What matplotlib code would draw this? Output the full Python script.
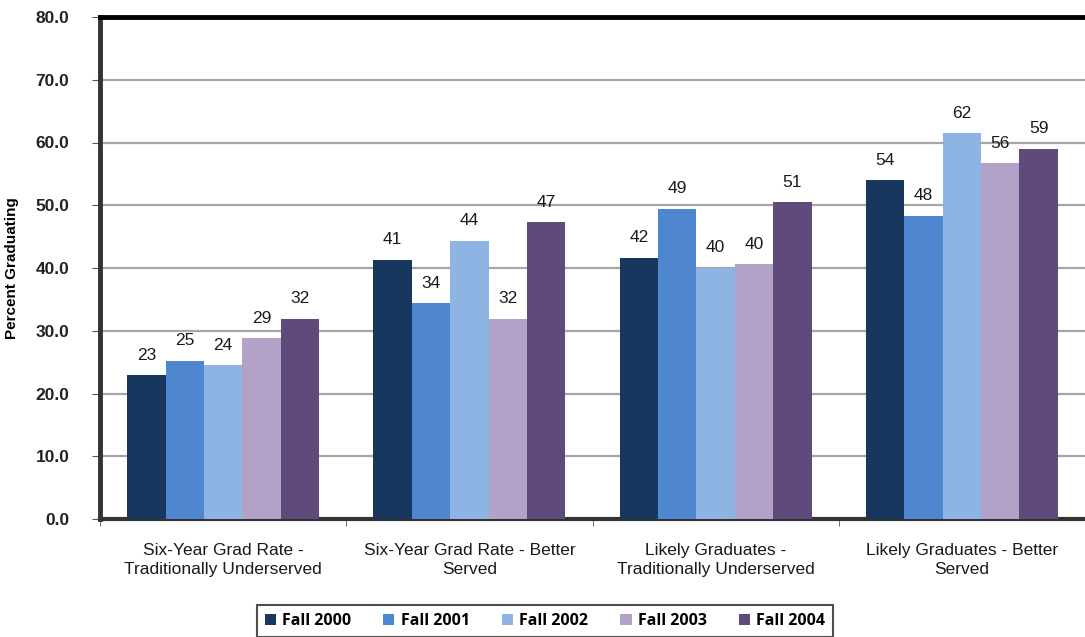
import numpy as np
import matplotlib.pyplot as plt

# data
categories = ["Six-Year Grad Rate -\nTraditionally Underserved",
              "Six-Year Grad Rate - Better\nServed",
              "Likely Graduates -\nTraditionally Underserved",
              "Likely Graduates - Better\nServed"]
series = ["Fall 2000", "Fall 2001", "Fall 2002", "Fall 2003", "Fall 2004"]
fall_2000 = [22.9, 41.3, 41.6, 54.0]
fall_2001 = [25.2, 34.4, 49.4, 48.3]
fall_2002 = [24.5, 44.3, 40.0, 61.5]
fall_2003 = [28.8, 31.9, 40.6, 56.7]
fall_2004 = [31.9, 47.3, 50.5, 59.0]
labels_2000 = ["23", "41", "42", "54"]
labels_2001 = ["25", "34", "49", "48"]
labels_2002 = ["24", "44", "40", "62"]
labels_2003 = ["29", "32", "40", "56"]
labels_2004 = ["32", "47", "51", "59"]
yticks = [0, 10, 20, 30, 40, 50, 60, 70, 80]

values = [fall_2000, fall_2001, fall_2002, fall_2003, fall_2004]
labels = [labels_2000, labels_2001, labels_2002, labels_2003, labels_2004]
colors = ["#17375E", "#4F86D0", "#8DB4E2", "#B3A2C7", "#604A7B"]

plt.rcParams['font.family'] = ['Liberation Sans', 'DejaVu Sans']

fig = plt.figure(figsize=(10.85, 6.37), dpi=100)
ax = fig.add_axes([100 / 1085, 1 - 519 / 637, 1 - 100 / 1085, (519 - 17) / 637])

x = np.arange(len(categories))
w = 0.156
for i, (vals, labs, c, name) in enumerate(zip(values, labels, colors, series)):
    pos = x + (i - 2) * w
    ax.bar(pos, vals, width=w, color=c, label=name, zorder=3)
    for p, v, t in zip(pos, vals, labs):
        ax.text(p, v + 2.0, t, ha='center', va='bottom', fontsize=12.5, color='#1a1a1a', zorder=4)

ax.set_ylim(0, 80)
ax.set_xlim(-0.5, 3.5)
ax.set_yticks(yticks)
ax.set_yticklabels([f"{t:.1f}" for t in yticks], fontsize=12.5, fontweight='bold', color='#222222')
ax.yaxis.grid(True, color='#A6A6A6', linewidth=1.6, zorder=0)
ax.set_axisbelow(True)

ax.set_xticks(x)
ax.set_xticklabels(categories, fontsize=12.5, color='#1a1a1a', linespacing=1.35)
ax.tick_params(axis='x', length=0, pad=17)
ax.set_xticks([0.5, 1.5, 2.5, -0.5], minor=True)
ax.tick_params(axis='x', which='minor', length=5, color='#555555')
ax.tick_params(axis='y', length=6, color='#555555', pad=16)

ax.spines['top'].set_linewidth(3.5)
ax.spines['top'].set_color('black')
ax.spines['left'].set_linewidth(3.5)
ax.spines['left'].set_color('#333333')
ax.spines['bottom'].set_linewidth(3)
ax.spines['bottom'].set_color('#333333')
ax.spines['right'].set_visible(False)

ax.set_ylabel("Percent Graduating", fontsize=11, fontweight='bold', labelpad=12)

leg = fig.legend(loc='upper center', bbox_to_anchor=(545 / 1085, 1 - 597 / 637), ncol=5,
                 frameon=True, fancybox=False, edgecolor='#222222', handlelength=0.7,
                 handleheight=0.7, handletextpad=0.4, columnspacing=2.0,
                 prop={'family': 'Open Sans', 'weight': 'bold', 'size': 11.5},
                 borderpad=0.5)
leg.get_frame().set_linewidth(1.5)

fig.savefig("out.png", dpi=100)
